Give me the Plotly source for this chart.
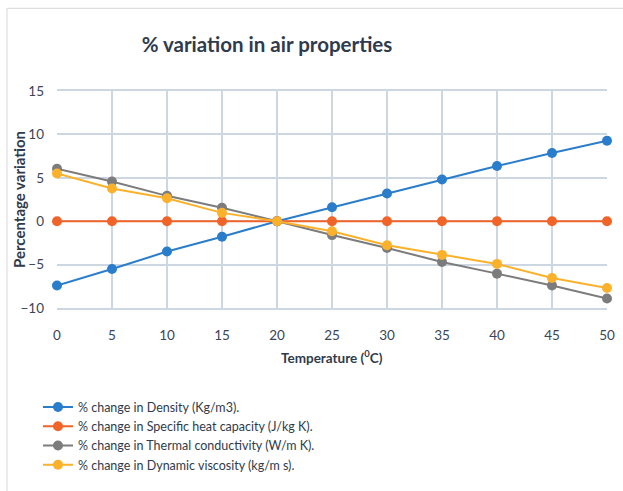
import plotly.graph_objects as go

temperature = [0, 5, 10, 15, 20, 25, 30, 35, 40, 45, 50]
density = [-7.4, -5.5, -3.5, -1.8, 0.0, 1.6, 3.2, 4.8, 6.35, 7.85, 9.27]
specific_heat = [0.0, 0.0, 0.0, 0.0, 0.0, 0.0, 0.0, 0.0, 0.0, 0.0, 0.0]
thermal_cond = [6.05, 4.58, 2.92, 1.54, 0.0, -1.6, -3.08, -4.7, -6.04, -7.4, -8.9]
dyn_visc = [5.5, 3.77, 2.65, 0.96, 0.0, -1.15, -2.77, -3.88, -4.92, -6.54, -7.7]

names = [
    "% change in Density (Kg/m3).",
    "% change in Specific heat capacity (J/kg K).",
    "% change in Thermal conductivity (W/m K).",
    "% change in Dynamic viscosity (kg/m s).",
]
colors = ["#2a7dcb", "#f0642a", "#7c7c7c", "#fbb12b"]
series = [density, specific_heat, thermal_cond, dyn_visc]

FONT = "Lato"
TXT = "#3a4656"
PL, PR, PT, PB = 57, 606.7, 90.7, 307.7
PW, PH = PR - PL, PB - PT

def px_x(px):
    return (px - PL) / PW

def px_y(py):
    return (PB - py) / PH

fig = go.Figure()
for name, vals, col in zip(names, series, colors):
    fig.add_trace(go.Scatter(
        x=temperature, y=vals, name=name, mode="lines+markers",
        line=dict(color=col, width=2),
        marker=dict(color=col, size=10),
        cliponaxis=False,
    ))

grid = "#cdd7e1"
fig.update_layout(
    width=623, height=491,
    margin=dict(l=57, r=16, t=91, b=183, autoexpand=False),
    paper_bgcolor="white", plot_bgcolor="white",
    font=dict(family=FONT, color=TXT, size=13),
    title=dict(text="<b>% variation in air properties</b>", x=267/623, xanchor="center",
               xref="container", y=1-45/491, yref="container", yanchor="middle",
               font=dict(size=20.5, color="#2f3b4c", family=FONT)),
    showlegend=True,
    legend=dict(x=px_x(38), xref="paper", xanchor="left",
                y=px_y(392), yref="paper", yanchor="top",
                font=dict(size=12.5, color="#2f3b4c", family=FONT),
                itemwidth=30, tracegroupgap=0, bgcolor="rgba(0,0,0,0)"),
    xaxis=dict(range=[0, 50], tickvals=temperature, showgrid=True, gridcolor=grid, gridwidth=1.5,
               zeroline=False, showline=True, linecolor=grid, linewidth=1.5, mirror=True,
               ticks="", ticklabelstandoff=14, tickfont=dict(size=13.5, color=TXT),
               automargin=False),
    yaxis=dict(range=[-10, 15], tickvals=[-10, -5, 0, 5, 10, 15], showgrid=True, gridcolor=grid,
               gridwidth=1.5, zeroline=False, showline=False,
               ticks="", ticklabelstandoff=12, tickfont=dict(size=13.5, color=TXT),
               automargin=False),
    annotations=[
        dict(text="<b>Temperature (<sup>0</sup>C)</b>", xref="paper", yref="paper",
             x=0.5, y=px_y(356.5), xanchor="center", yanchor="middle", showarrow=False,
             font=dict(size=13.5, color="#2f3b4c", family=FONT)),
        dict(text="<b>Percentage variation</b>", xref="paper", yref="paper",
             x=px_x(18.5), y=0.5, xanchor="center", yanchor="middle", showarrow=False,
             textangle=-90, font=dict(size=15, color="#2f3b4c", family=FONT)),
    ],
    shapes=[
        dict(type="line", xref="paper", yref="paper", x0=px_x(7), x1=px_x(623),
             y0=px_y(8), y1=px_y(8), line=dict(color="#d6d6d6", width=1)),
        dict(type="line", xref="paper", yref="paper", x0=px_x(7), x1=px_x(7),
             y0=px_y(8), y1=px_y(491), line=dict(color="#d6d6d6", width=1)),
    ],
)

fig.write_html("out.html", config={"displayModeBar": False},
               post_script="document.body.style.margin='0';")
